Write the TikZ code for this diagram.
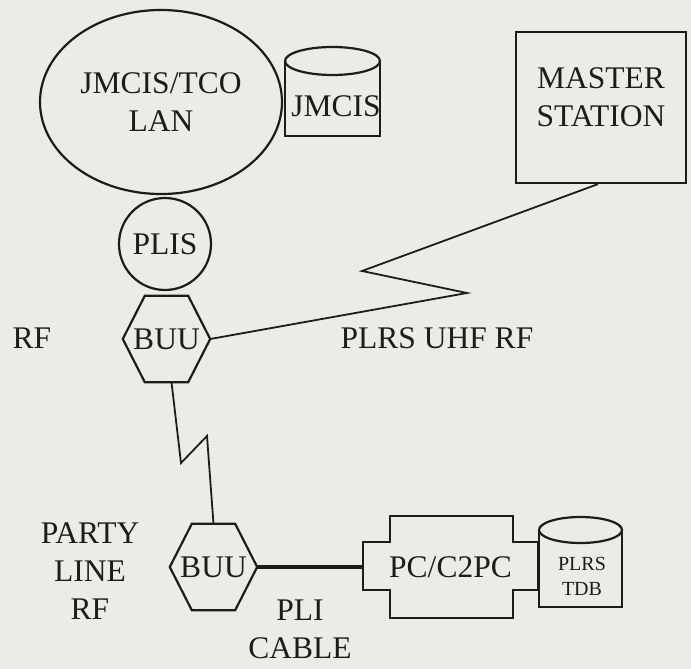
\documentclass[tikz,border=0pt]{standalone}
\usepackage{fontspec}
\setmainfont{Liberation Serif}
\usepackage{tikz}
\usetikzlibrary{shapes.geometric}
\definecolor{paper}{RGB}{236,236,231}
\definecolor{ink}{RGB}{28,28,28}
\tikzset{
  unitline/.style={draw=ink, line width=2.2pt},
  unit/.style={unitline, inner sep=0pt, align=center, text=ink},
  lan/.style={unit, ellipse, minimum width=242pt, minimum height=184pt},
  plis/.style={unit, circle, minimum size=92pt},
  station/.style={unit, rectangle, minimum width=170pt, minimum height=151pt},
  buu/.style={inner sep=0pt, minimum width=87pt, minimum height=86pt, text=ink},
  db/.style={inner sep=0pt, align=center, text=ink},
  link/.style={draw=ink, line width=1.8pt, line join=miter},
  cable/.style={draw=ink, line width=4.5pt},
  lbl/.style={align=center, text=ink}
}

\begin{document}
\begin{tikzpicture}[x=1pt, y=-1pt, font=\fontsize{31.5}{38}\selectfont]
\fill[paper] (0,0) rectangle (691,669);
\useasboundingbox (0,0) rectangle (691,669);

% units
\node[lan] (lan) at (161,102) {JMCIS/TCO\\LAN};
\node[plis] (plis) at (165,244) {PLIS};
\node[station, text depth=20pt] (master) at (601,107.5) {MASTER\\STATION};
\node[buu] (buuTop) at (166.5,339) {BUU};
\node[buu] (buuBot) at (213.5,567) {BUU};
\node[buu, minimum width=175pt, minimum height=102pt] (pc) at (450.5,567) {PC/C2PC};

% hexagons
\foreach \h in {buuTop,buuBot}
  \draw[unitline] (\h.west) -- ([xshift=22pt]\h.north west) -- ([xshift=-22pt]\h.north east)
    -- (\h.east) -- ([xshift=-22pt]\h.south east) -- ([xshift=22pt]\h.south west) -- cycle;

% pc box
\draw[unitline] ([xshift=27pt]pc.north west) -- ++(123,0) -- ++(0,26) -- ++(25,0) -- ++(0,48)
  -- ++(-25,0) -- ++(0,28) -- ++(-123,0) -- ++(0,-28) -- ++(-27,0) -- ++(0,-48) -- ++(27,0) -- cycle;

% databases
\node[db] (jmcis) at (336,106) {JMCIS};
\draw[unitline] (285,61) -- (285,136) -- (380,136) -- (380,61);
\draw[unitline] (332.5,61) ellipse [x radius=47.5, y radius=14];

\node[db, font=\fontsize{20}{25}\selectfont] (tdb) at (582,576) {PLRS\\TDB};
\draw[unitline] (539,530) -- (539,607) -- (622,607) -- (622,530);
\draw[unitline] (580.5,530) ellipse [x radius=41.5, y radius=13];

% links
\draw[link] (buuTop.east) -- (467,293) -- (362,271) -- ([xshift=-3pt]master.south);
\draw[link] ([xshift=5pt]buuTop.south) -- (181,463) -- (207,436) -- (buuBot.north);
\draw[cable] (buuBot.east) -- (pc.west);

% labels
\node[lbl] (rf) at (32,338) {RF};
\node[lbl] (uhf) at (437,338) {PLRS UHF RF};
\node[lbl] (party) at (90,571) {PARTY\\LINE\\RF};
\node[lbl] (pli) at (300,629) {PLI\\CABLE};

\end{tikzpicture}
\end{document}
